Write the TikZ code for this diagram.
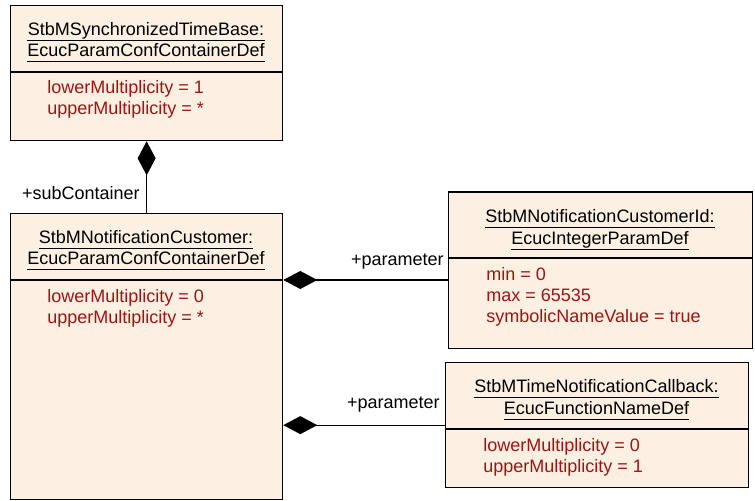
\documentclass[tikz,border=0pt]{standalone}
\usepackage{fontspec}
\setmainfont{Liberation Sans}
\usetikzlibrary{arrows.meta, positioning}
\definecolor{umlFill}{RGB}{251, 240, 225}
\definecolor{umlRed}{RGB}{160, 20, 20}
\tikzset{
  classbox/.style={rectangle, draw=black, line width=0.65pt, fill=umlFill, anchor=north west, inner sep=0pt},
  clstitle/.style={anchor=base, inner sep=0pt, font=\fontsize{9}{11}\selectfont},
  clsattr/.style={anchor=base west, inner sep=0pt, text=umlRed, font=\fontsize{9}{11}\selectfont},
  rolelabel/.style={anchor=base east, inner sep=0pt, font=\fontsize{9}{11}\selectfont},
  divider/.style={line width=0.6pt},
  comp/.style={{Diamond[length=17pt, width=9pt]}-, line width=0.6pt},
}
\begin{document}
\begin{tikzpicture}[x=0.5pt, y=-0.5pt]
  \useasboundingbox (0,0) rectangle (755,501);

  % class boxes
  \node[classbox, minimum width=136pt, minimum height=67.5pt] (syncbase) at (10,5) {};
  \node[classbox, minimum width=136pt, minimum height=143pt] (cust) at (10,213) {};
  \node[classbox, minimum width=152pt, minimum height=78.25pt] (custid) at (448,191.5) {};
  \node[classbox, minimum width=151.5pt, minimum height=62.5pt] (callback) at (445,362) {};

  % name / attribute dividers
  \coordinate (syncsep) at (0,72);
  \coordinate (custsep) at (0,280);
  \coordinate (idsep) at (0,258);
  \coordinate (cbsep) at (0,429);
  \draw[divider] (syncbase.west |- syncsep) -- (syncbase.east |- syncsep);
  \draw[divider] (cust.west |- custsep) -- (cust.east |- custsep);
  \draw[divider] (custid.west |- idsep) -- (custid.east |- idsep);
  \draw[divider] (callback.west |- cbsep) -- (callback.east |- cbsep);

  % names
  \node[clstitle] (syncname) at (146,36) {StbMSynchronizedTimeBase:};
  \node[clstitle] (synctype) at (146,57) {EcucParamConfContainerDef};
  \node[clstitle] (custname) at (146,244) {StbMNotificationCustomer:};
  \node[clstitle] (custtype) at (146,265) {EcucParamConfContainerDef};
  \node[clstitle] (idname) at (600,223) {StbMNotificationCustomerId:};
  \node[clstitle] (idtype) at (600,245) {EcucIntegerParamDef};
  \node[clstitle] (cbname) at (596.5,393) {StbMTimeNotificationCallback:};
  \node[clstitle] (cbtype) at (596.5,415) {EcucFunctionNameDef};

  \foreach \n in {syncname,synctype,custname,custtype,idname,idtype,cbname,cbtype} {
    \draw[line width=0.45pt] ([yshift=-2.2pt]\n.base west) -- ([yshift=-2.2pt]\n.base east);
  }

  % attributes
  \node[clsattr] (synclow) at (47,94) {lowerMultiplicity = 1};
  \node[clsattr] (syncup) at (47,115) {upperMultiplicity = *};
  \node[clsattr] (custlow) at (47,303) {lowerMultiplicity = 0};
  \node[clsattr] (custup) at (47,324) {upperMultiplicity = *};
  \node[clsattr] (idmin) at (486,281) {min = 0};
  \node[clsattr] (idmax) at (486,302) {max = 65535};
  \node[clsattr] (idsym) at (486,323) {symbolicNameValue = true};
  \node[clsattr] (cblow) at (483,452) {lowerMultiplicity = 0};
  \node[clsattr] (cbup) at (483,473) {upperMultiplicity = 1};

  % compositions
  \draw[comp] (syncbase.south) -- (cust.north);
  \draw[comp] (cust.east |- custsep) -- (custid.west |- custsep);
  \draw[comp] (cust.east |- callback.west) -- (callback.west);

  \node[rolelabel] (subrole) at (140,200) {+subContainer};
  \node[rolelabel] (idrole) at (444,266) {+parameter};
  \node[rolelabel] (cbrole) at (440,409) {+parameter};
\end{tikzpicture}
\end{document}
